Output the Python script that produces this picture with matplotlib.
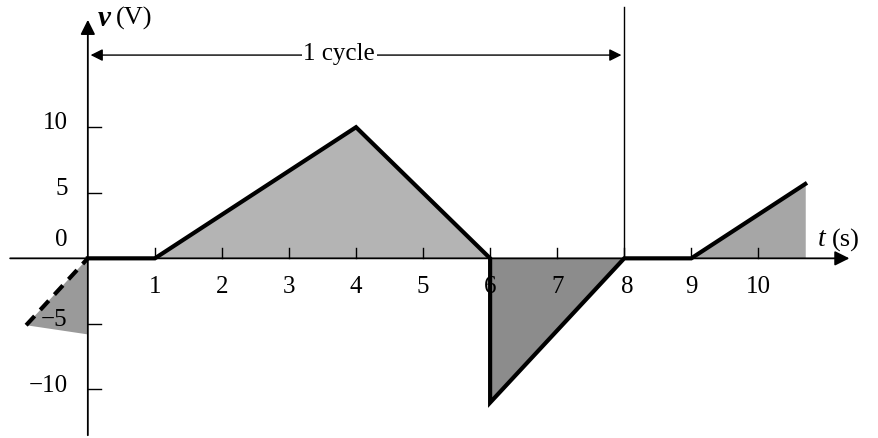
import matplotlib.pyplot as plt
import numpy as np

# waveform (one cycle is 8 s)
t_wave = [0, 1, 4, 6, 6, 8, 9, 10.7]
v_wave = [0, 0, 10, 0, -11, 0, 0, 5.67]
t_dash = [-0.92, 0]
v_dash = [-5.1, 0]

x_ticks = [1, 2, 3, 4, 5, 6, 7, 8, 9, 10]
y_ticks = [10, 5, -5, -10]
y_labels = ["10", "5", "\u22125", "\u221210"]

plt.rcParams['font.family'] = ['Liberation Serif', 'DejaVu Serif']

fig = plt.figure(figsize=(8.79, 4.38), dpi=100)
ax = fig.add_axes([0, 0, 1, 1])
ax.set_xlim(-1.31, 11.8)
ax.set_ylim(-13.7, 19.7)
ax.axis("off")

# shaded areas
tw = np.array(t_wave)
vw = np.array(v_wave)
ax.fill_between(tw[:4], vw[:4], 0, color="#b4b4b4", lw=0)
ax.fill_between(tw[3:6], vw[3:6], 0, color="#8c8c8c", lw=0)
ax.fill_between(tw[6:], vw[6:], 0, color="#a6a6a6", lw=0)
ax.fill([t_dash[0], t_dash[1], t_dash[1]], [v_dash[0], v_dash[1], -5.8],
        color="#9a9a9a", lw=0)

# axes with arrows
ax.annotate("", xy=(11.4, 0), xytext=(-1.2, 0),
            arrowprops=dict(arrowstyle="-|>", color="black", lw=1.3,
                            mutation_scale=22))
ax.annotate("", xy=(0, 18.4), xytext=(0, -13.7),
            arrowprops=dict(arrowstyle="-|>", color="black", lw=1.3,
                            mutation_scale=22))

# ticks
for x in x_ticks:
    ax.plot([x, x], [0, 0.8], color="black", lw=1)
for y in y_ticks:
    ax.plot([0, 0.2], [y, y], color="black", lw=1)

for x in x_ticks:
    xo = 0.05 if x == 8 else 0
    ax.text(x + xo, -2.2, str(x), ha="center", va="center", fontsize=18)
for y, lab in zip(y_ticks, y_labels):
    ax.text(-0.3, y + 0.3, lab, ha="right", va="center", fontsize=18)
ax.text(-0.3, 1.4, "0", ha="right", va="center", fontsize=18)

# waveform
ax.plot(t_wave, v_wave, color="black", lw=3, solid_joinstyle="miter")
ax.plot(t_dash, v_dash, color="black", lw=3, ls=(0, (3, 2)))

# axis labels
ax.text(0.15, 18.3, "v", fontsize=21, va="center", ha="left",
        fontstyle="italic", fontweight="bold")
ax.text(0.42, 18.3, "(V)", fontsize=19, va="center", ha="left")
ax.text(10.95, 1.4, "t", fontsize=20, va="center", ha="center",
        fontstyle="italic")
ax.text(11.1, 1.4, "(s)", fontsize=19, va="center", ha="left")

# one cycle marker
ax.plot([8, 8], [0, 19.2], color="black", lw=1)
ax.annotate("", xy=(0, 15.5), xytext=(8, 15.5),
            arrowprops=dict(arrowstyle="<|-|>", color="black", lw=1,
                            mutation_scale=18))
ax.text(3.75, 15.6, "1 cycle", fontsize=18, ha="center", va="center",
        bbox=dict(facecolor="white", edgecolor="none", pad=1))

fig.savefig("out.png", dpi=100)
plt.close()
